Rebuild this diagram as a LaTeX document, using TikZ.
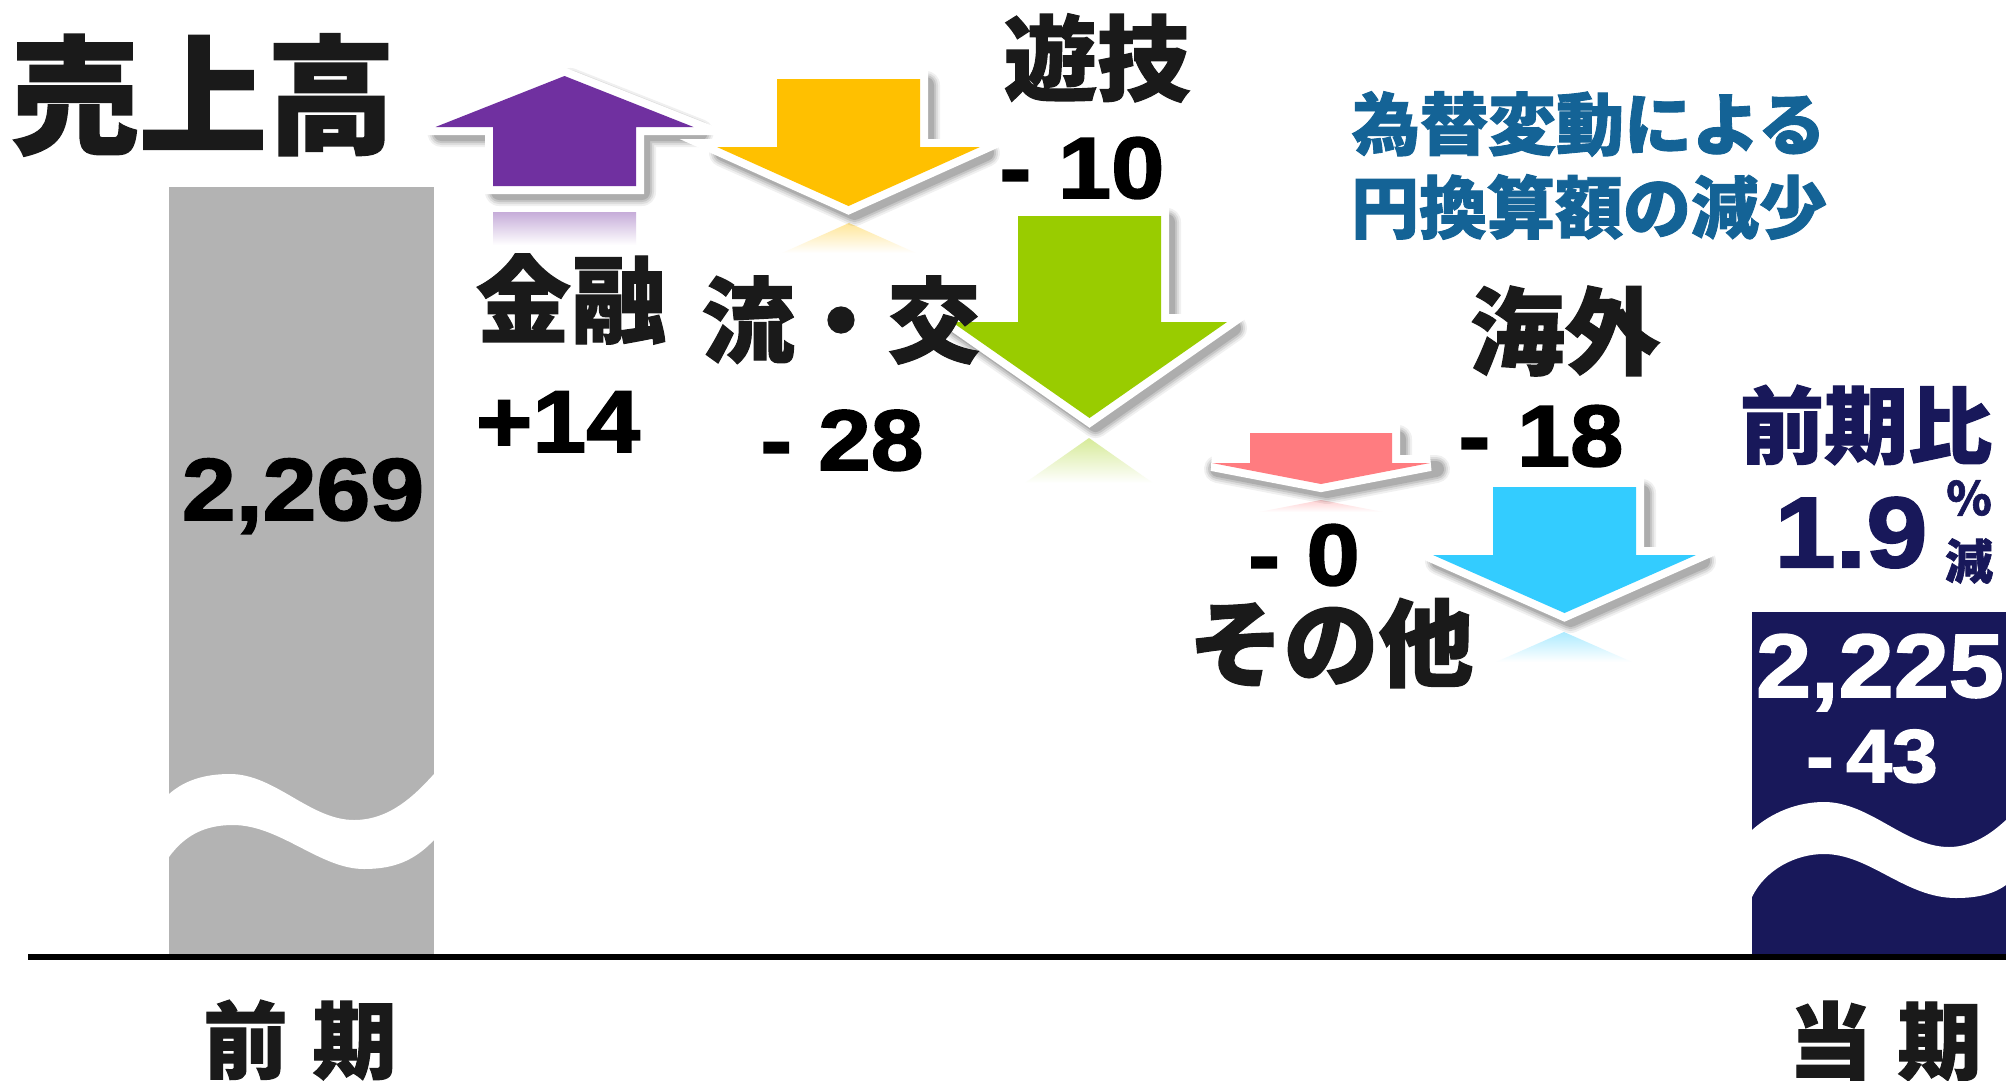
\documentclass[tikz,border=0pt]{standalone}
\usepackage{fontspec}
\newfontfamily\jpfont{Noto Sans CJK JP}[BoldFeatures={FakeBold=1.3}]
\newfontfamily\numfont{Liberation Sans}[FakeStretch=1.1, BoldFeatures={FakeBold=2}]
\definecolor{cpurple}{RGB}{112,48,160}
\definecolor{cyellow}{RGB}{255,192,0}
\definecolor{cgreen}{RGB}{153,204,0}
\definecolor{cpink}{RGB}{255,124,128}
\definecolor{cblue}{RGB}{51,204,255}
\definecolor{cnavy}{RGB}{24,24,90}
\definecolor{cgray}{RGB}{179,179,179}
\definecolor{cteal}{RGB}{20,99,150}
\definecolor{ctext}{RGB}{26,26,26}
\tikzset{
  jp/.style={font={\jpfont\bfseries\fontsize{#1}{#1}\selectfont}, text=ctext, inner sep=0pt},
  num/.style={font={\numfont\bfseries\fontsize{#1}{#1}\selectfont}, text=black, inner sep=0pt, anchor=base},
  outline/.style={draw=white, line width=16pt, line join=miter},
  axisline/.style={line width=5.5pt, draw=black},
}
% #1 cx, #2 shaft half width, #3 shaft end y, #4 head base y, #5 head half width, #6 tip y, #7 colour
\newcommand\BigArrow[7]{%
  \foreach \w/\o in {28/0.06,24/0.08,20/0.1,16/0.12}{%
    \draw[shift={(6,6)}, line width=\w pt, draw=black, draw opacity=\o, line join=round]
      ({#1-#2},#3) -- ({#1-#2},#4) -- ({#1-#5},#4) -- (#1,#6) -- ({#1+#5},#4) -- ({#1+#2},#4) -- ({#1+#2},#3) -- cycle;}
  \draw[outline]
      ({#1-#2},#3) -- ({#1-#2},#4) -- ({#1-#5},#4) -- (#1,#6) -- ({#1+#5},#4) -- ({#1+#2},#4) -- ({#1+#2},#3) -- cycle;
  \fill[#7]
      ({#1-#2},#3) -- ({#1-#2},#4) -- ({#1-#5},#4) -- (#1,#6) -- ({#1+#5},#4) -- ({#1+#2},#4) -- ({#1+#2},#3) -- cycle;
}
\begin{document}
\begin{tikzpicture}[x=1pt,y=-1pt]
\useasboundingbox[fill=white] (0,0) rectangle (2006,1080);

% previous-period bar with break
\fill[cgray] (169,187) rectangle (434,957);
\fill[white] (169,794) .. controls (185,780) and (205,774) .. (230,774)
  .. controls (275,774) and (310,820) .. (354,820)
  .. controls (390,820) and (415,795) .. (434,774)
  -- (434,840) .. controls (415,860) and (395,869) .. (364,869)
  .. controls (320,869) and (280,825) .. (233,825)
  .. controls (205,825) and (185,835) .. (169,857) -- cycle;

% current-period bar with break
\fill[cnavy] (1752,612) rectangle (2006,957);
\fill[white] (1752,830) .. controls (1772,812) and (1798,802) .. (1824,802)
  .. controls (1870,802) and (1905,847) .. (1949,847)
  .. controls (1975,847) and (1995,830) .. (2006,820)
  -- (2006,885) .. controls (1995,893) and (1980,898) .. (1956,898)
  .. controls (1905,898) and (1870,854) .. (1824,854)
  .. controls (1795,854) and (1765,870) .. (1752,897) -- cycle;

% axis
\coordinate (axl) at (28,957);
\coordinate (axr) at (2006,957);
\draw[axisline] (axl) -- (axr);

% reflections
\shade[top color=cpurple!40, bottom color=white] (493,212) rectangle (636,245);
\shade[top color=cyellow!40, bottom color=white] (849,223) -- (782,253) -- (916,253) -- cycle;
\shade[top color=cgreen!40, bottom color=white] (1089,438) -- (1025,483) -- (1153,483) -- cycle;
\shade[top color=cpink!35, bottom color=white] (1321,500) -- (1259,512) -- (1383,512) -- cycle;
\shade[top color=cblue!40, bottom color=white] (1564,632) -- (1496,662) -- (1632,662) -- cycle;

% arrows
\BigArrow{564.5}{71.5}{186}{127}{129}{76}{cpurple}
\BigArrow{848.5}{71.5}{79}{147}{131.5}{206}{cyellow}
\BigArrow{1089.5}{71.5}{216}{322}{137.5}{418}{cgreen}
\BigArrow{1321}{71}{433}{463}{109}{484}{cpink}
\BigArrow{1564.5}{71.5}{487}{555}{131.5}{613}{cblue}

% texts
\node[jp=128] (title) at (203,95) {売上高};
\node[jp=93] (yugi) at (1097,58) {遊技};
\node[jp=95] (kinyu) at (571,299) {金融};
\node[jp=93] (ryuko) at (841,320) {流・交};
\node[jp=95] (kaigai) at (1565,331) {海外};
\node[jp=95] (sonota) at (1331,643) {その他};
\node[jp=84, text=cnavy] (zenkihi) at (1866,425) {前期比};
\node[jp=46, text=cnavy] (pct) at (1969,498) {％};
\node[jp=48, text=cnavy] (gen) at (1969,561) {減};
\node[jp=68, text=cteal] (fx1) at (1589,124) {為替変動による};
\node[jp=68, text=cteal] (fx2) at (1589,207) {円換算額の減少};
\node[jp=84] (zenki) at (300,1040) {前\hspace{0.3em}期};
\node[jp=84] (touki) at (1885,1041) {当\hspace{0.3em}期};

\node[num=88] (v2269) at (303,520) {2,269};
\node[num=88] (v14) at (558,452) {+14};
\node[num=86] (v28) at (842,470) {- 28};
\node[num=87] (v10) at (1082,198) {- 10};
\node[num=87] (v18) at (1541,466) {- 18};
\node[num=87] (v0) at (1304,585) {- 0};
\node[num=90, text=white] (v2225) at (1880,697) {2,225};
\node[num=75, text=white] (v43) at (1872,782) {-\,43};
\node[num=100, text=cnavy] (v19) at (1851,567) {1.9};
\end{tikzpicture}
\end{document}
